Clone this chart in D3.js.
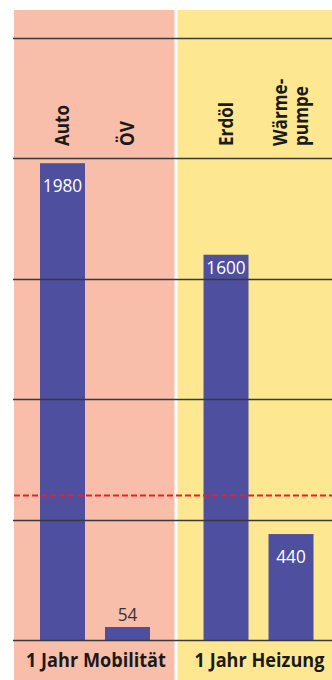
<!DOCTYPE html>
<html><head><meta charset="utf-8">
<script src="https://cdn.jsdelivr.net/npm/d3@7"></script>
<style>html,body{margin:0;padding:0;background:#fff}svg{display:block}</style>
</head><body><svg id="c" width="332" height="680"></svg>
<script>
// ---- data ----
const groups = ["1 Jahr Mobilität", "1 Jahr Heizung"];
const categories = ["Auto", "ÖV", "Erdöl", "Wärmepumpe"];
const categoryGroup = ["1 Jahr Mobilität", "1 Jahr Mobilität", "1 Jahr Heizung", "1 Jahr Heizung"];
const categoryLabelLines = [["Auto"], ["ÖV"], ["Erdöl"], ["Wärme-", "pumpe"]];
const values = [1980, 54, 1600, 440];
const yTicks = [0, 500, 1000, 1500, 2000, 2500];
const threshold = 600;

// ---- styles ----
const W = 332, H = 680;
const panelColors = ["#f9bea9", "#fde891"];
const barColor = "#4f4f9f";
const gridColor = "#3a3a3a";
const font = "'Open Sans', 'Noto Sans', sans-serif";

const svg = d3.select("#c");
svg.append("rect").attr("width", W).attr("height", H).attr("fill", "#fff");

const y = d3.scaleLinear().domain([0, 2500]).range([640, 38]);
const gx = d3.scaleBand().domain(groups).range([14, 338]).paddingInner(0.0185);
const ix = d3.scaleBand().domain([0, 1]).range([26, 136]).paddingInner(0.3077).paddingOuter(0);

const within = categories.map((c, i) => categories.slice(0, i).filter((d, j) => categoryGroup[j] === categoryGroup[i]).length);
const barX = i => gx(categoryGroup[i]) + ix(within[i]);
const barCx = i => barX(i) + ix.bandwidth() / 2;

// panels
svg.selectAll("rect.panel").data(groups).join("rect")
  .attr("class", "panel")
  .attr("x", d => gx(d))
  .attr("y", 10)
  .attr("width", gx.bandwidth())
  .attr("height", H - 10)
  .attr("fill", (d, i) => panelColors[i]);

// bars
svg.selectAll("rect.bar").data(values).join("rect")
  .attr("class", "bar")
  .attr("x", (d, i) => barX(i))
  .attr("y", d => y(d))
  .attr("width", ix.bandwidth())
  .attr("height", d => y(0) - y(d))
  .attr("fill", barColor);

// threshold line
svg.append("line")
  .attr("x1", 14).attr("x2", W)
  .attr("y1", y(threshold)).attr("y2", y(threshold))
  .attr("stroke", "#e8202a").attr("stroke-width", 2)
  .attr("stroke-dasharray", "6,3");

// gridlines
svg.selectAll("line.grid").data(yTicks).join("line")
  .attr("class", "grid")
  .attr("x1", 13).attr("x2", W)
  .attr("y1", d => Math.round(y(d)) + 0.5).attr("y2", d => Math.round(y(d)) + 0.5)
  .attr("stroke", gridColor).attr("stroke-width", 1.7);

// value labels
const fsVal = 18.5;
svg.selectAll("text.val").data(values).join("text")
  .attr("class", "val")
  .attr("transform", (d, i) => {
    const top = y(d);
    let base;
    if (y(0) - top < 40) base = top - 6;
    else {
      base = top + 29;
      const hit = yTicks.some(t => { const gy = y(t); return gy > base - 15 && gy < base + 4; });
      if (hit) base = top + 19;
    }
    return `translate(${barCx(i)},${base}) scale(0.93,1)`;
  })
  .attr("text-anchor", "middle")
  .attr("font-family", font)
  .attr("font-size", fsVal)
  .attr("fill", d => (y(0) - y(d) < 40) ? "#333" : "#fff")
  .text(d => d);

// category labels (rotated)
const fsCat = 19.5, lineH = 21.5;
categories.forEach((c, i) => {
  const lines = categoryLabelLines[i];
  const n = lines.length;
  const cx = barCx(i);
  lines.forEach((ln, k) => {
    const bx = cx + 6.5 + (k - (n - 1) / 2) * lineH;
    svg.append("text")
      .attr("transform", `translate(${bx},146) rotate(-90) scale(0.88,1)`)
      .attr("text-anchor", "start")
      .attr("font-family", font)
      .attr("font-weight", "bold")
      .attr("font-size", fsCat)
      .attr("fill", "#1a1a1a")
      .text(ln);
  });
});

// group labels
svg.selectAll("text.grp").data(groups).join("text")
  .attr("class", "grp")
  .attr("transform", g => {
    const idx = categories.map((c, i) => i).filter(i => categoryGroup[i] === g);
    const cx = (barX(idx[0]) + barX(idx[idx.length - 1]) + ix.bandwidth()) / 2 + 1;
    return `translate(${cx},667) scale(0.93,1)`;
  })
  .attr("text-anchor", "middle")
  .attr("font-family", font)
  .attr("font-weight", "bold")
  .attr("font-size", 19.5)
  .attr("fill", "#1a1a1a")
  .text(d => d);
</script></body></html>
